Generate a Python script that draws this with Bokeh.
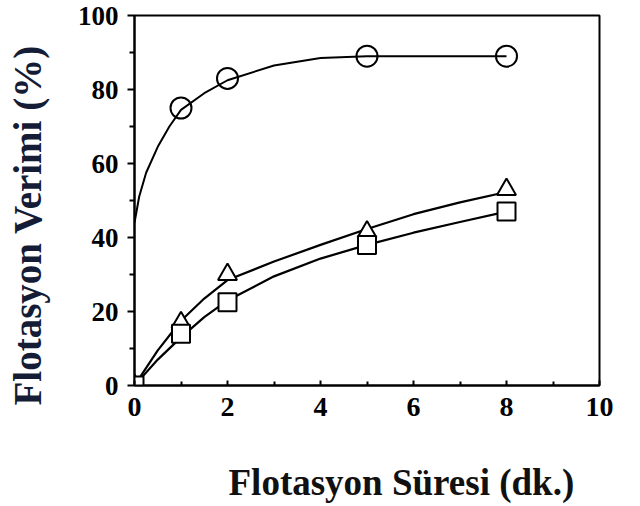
from bokeh.plotting import figure
from bokeh.models import Range1d, FixedTicker, Title
from bokeh.embed import file_html
from bokeh.resources import INLINE

# Measured points: flotation time (min) vs. flotation yield (%)
time_pts = [0, 1, 2, 5, 8]
circle_time = [1, 2, 5, 8]
circle_yield = [75, 83, 89, 89]
triangle_yield = [0, 17, 30, 41.5, 53]
square_yield = [0, 14, 22.5, 38, 47]

# Trend lines drawn through each series
circle_curve_t = [0, 0.1, 0.25, 0.5, 0.75, 1, 1.5, 2, 3, 4, 5, 6.5, 8]
circle_curve_y = [44, 51, 57.5, 64.5, 70, 74.5, 79, 82.5, 86.5, 88.5, 89, 89, 89]
curve_t = [0, 0.5, 1, 1.5, 2, 3, 4, 5, 6, 7, 8]
triangle_curve_y = [0, 9.5, 17.5, 23.5, 28.5, 33.5, 38, 42.3, 46.3, 49.5, 52.3]
square_curve_y = [0, 7, 13, 18.5, 23, 29.5, 34.3, 38, 41.3, 44.2, 47]

x_ticks = [0, 2, 4, 6, 8, 10]
x_minor = [1, 3, 5, 7, 9]
y_ticks = [0, 20, 40, 60, 80, 100]
y_minor = [10, 30, 50, 70, 90]

x_title = "Flotasyon Süresi (dk.)"
y_title = "Flotasyon Verimi (%)"

FONT = "Liberation Serif"

p = figure(width=640, height=506, output_backend="svg", toolbar_location=None,
           x_range=Range1d(0, 10), y_range=Range1d(0, 100),
           min_border_left=134, min_border_right=41,
           min_border_top=15, min_border_bottom=121)
p.background_fill_color = "white"
p.border_fill_color = "white"
p.outline_line_color = "black"
p.outline_line_width = 2
p.xgrid.visible = False
p.ygrid.visible = False

# x axis: ticks point into the plot
p.xaxis.ticker = FixedTicker(ticks=x_ticks, minor_ticks=x_minor)
p.xaxis.major_tick_in = 5
p.xaxis.major_tick_out = 0
p.xaxis.minor_tick_in = 4
p.xaxis.minor_tick_out = 0
p.xaxis.major_label_standoff = 12
p.xaxis.major_label_text_font_size = "28px"

# y axis: ticks point outward
p.yaxis.ticker = FixedTicker(ticks=y_ticks, minor_ticks=y_minor)
p.yaxis.major_tick_in = 0
p.yaxis.major_tick_out = 7
p.yaxis.minor_tick_in = 0
p.yaxis.minor_tick_out = 5
p.yaxis.major_label_standoff = 9
p.yaxis.major_label_text_font_size = "27px"

for ax in (p.xaxis, p.yaxis):
    ax.axis_line_width = 2
    ax.axis_line_color = "black"
    ax.major_tick_line_width = 2
    ax.minor_tick_line_width = 2
    ax.major_tick_line_color = "black"
    ax.minor_tick_line_color = "black"
    ax.major_label_text_font = FONT
    ax.major_label_text_font_style = "bold"
    ax.major_label_text_color = "black"

# trend lines
p.line(circle_curve_t, circle_curve_y, line_color="black", line_width=2)
p.line(curve_t, triangle_curve_y, line_color="black", line_width=2.2)
p.line(curve_t, square_curve_y, line_color="black", line_width=2.2)

# markers
p.scatter(circle_time, circle_yield, marker="circle", size=21,
          line_color="black", line_width=2, fill_color=None)
p.scatter(time_pts, triangle_yield, marker="triangle", size=19,
          line_color="black", line_width=2, fill_color="white")
p.scatter(time_pts, square_yield, marker="square", size=18,
          line_color="black", line_width=2, fill_color="white")

# blank spacers push the axis titles away from the tick labels
p.add_layout(Title(text=" ", text_font_size="1px", standoff=36), "below")
p.add_layout(Title(text=" ", text_font_size="1px", standoff=22), "left")

# axis titles
p.add_layout(Title(text=x_title, text_font=FONT, text_font_style="bold",
                   text_font_size="37px", text_color="#111111",
                   align="left", offset=94, standoff=4), "below")
p.add_layout(Title(text=y_title, text_font=FONT, text_font_style="bold",
                   text_font_size="39px", text_color="#141c36",
                   align="left", offset=-20, standoff=2), "left")

open("out.html", "w").write(file_html(p, INLINE))
